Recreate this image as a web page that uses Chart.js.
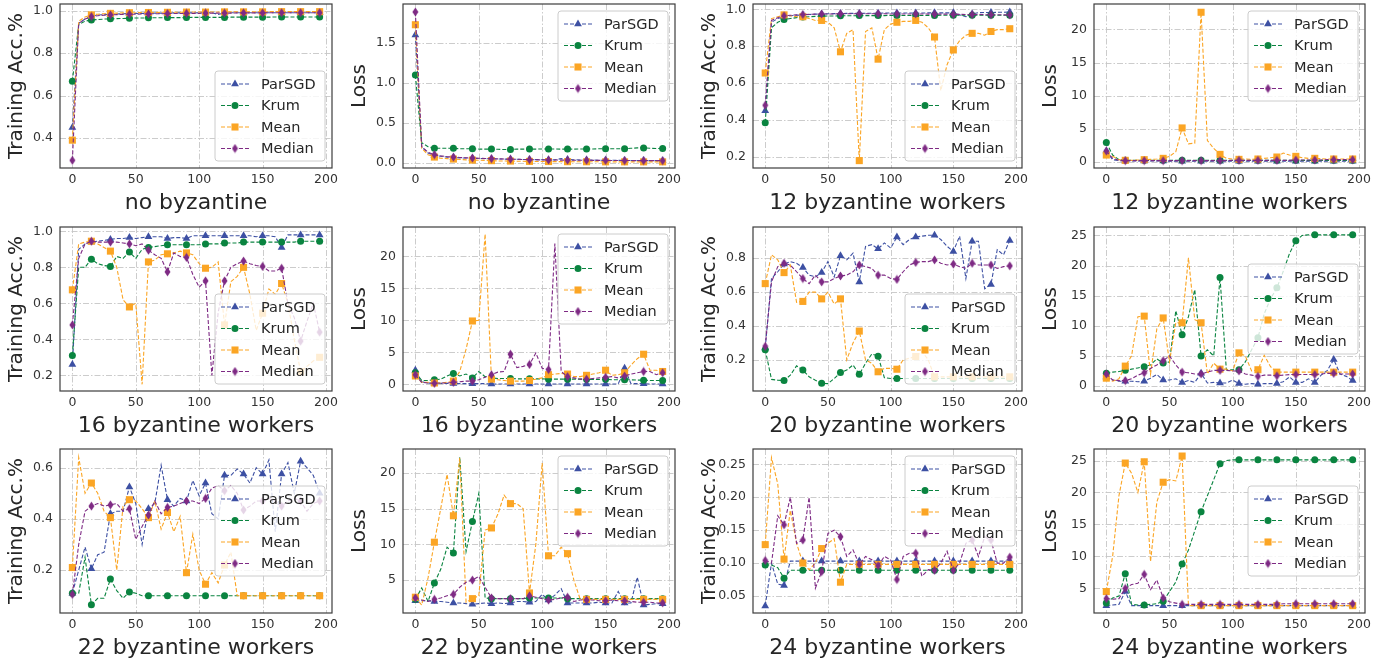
<!DOCTYPE html>
<html>
<head>
<meta charset="utf-8">
<script src="https://cdn.jsdelivr.net/npm/chart.js@4.4.1/dist/chart.umd.min.js"></script>
<style>
html, body { margin: 0; padding: 0; background: #fff; }
#wrap { position: relative; width: 1387px; height: 664px; overflow: hidden; }
#wrap canvas { position: absolute; }
</style>
</head>
<body>
<div id="wrap"></div>
<script>
// iterations (x axis), markers every 3rd point
const epochs = [0,5,10,15,20,25,30,35,40,45,50,55,60,65,70,75,80,85,90,95,
                100,105,110,115,120,125,130,135,140,145,150,155,160,165,170,175,180,185,190,195];
const seriesNames = ['ParSGD', 'Krum', 'Mean', 'Median'];
const xTicks = ['0', '50', '100', '150', '200'];

// ---- no byzantine ----
const accNone_ParSGD = [0.45,0.94,0.96,0.975,0.979,0.981,0.983,0.984,0.985,0.986,
  0.986,0.987,0.987,0.988,0.988,0.988,0.989,0.989,0.989,0.989,
  0.99,0.99,0.99,0.982,0.99,0.99,0.99,0.99,0.99,0.99,
  0.99,0.99,0.99,0.99,0.99,0.99,0.99,0.99,0.99,0.99];
const accNone_Krum = [0.667,0.935,0.95,0.956,0.958,0.96,0.961,0.962,0.963,0.964,
  0.965,0.965,0.966,0.966,0.966,0.967,0.967,0.967,0.967,0.968,
  0.968,0.968,0.968,0.968,0.968,0.969,0.969,0.969,0.969,0.969,
  0.969,0.969,0.97,0.97,0.97,0.97,0.97,0.97,0.97,0.97];
const accNone_Mean = [0.39,0.95,0.97,0.98,0.983,0.985,0.987,0.988,0.989,0.99,
  0.99,0.991,0.991,0.991,0.992,0.992,0.992,0.992,0.993,0.993,
  0.993,0.993,0.993,0.993,0.994,0.994,0.994,0.994,0.994,0.994,
  0.994,0.995,0.995,0.995,0.995,0.995,0.995,0.995,0.995,0.995];
const accNone_Median = [0.295,0.94,0.96,0.972,0.976,0.978,0.98,0.981,0.982,0.983,
  0.983,0.984,0.984,0.985,0.985,0.986,0.986,0.986,0.987,0.987,
  0.987,0.988,0.988,0.988,0.988,0.988,0.989,0.989,0.989,0.989,
  0.989,0.99,0.99,0.99,0.99,0.99,0.99,0.99,0.99,0.99];

const lossNone_ParSGD = [1.6,0.2,0.12,0.09,0.08,0.07,0.065,0.06,0.058,0.055,
  0.052,0.05,0.048,0.046,0.045,0.043,0.042,0.04,0.04,0.038,
  0.037,0.036,0.035,0.05,0.04,0.035,0.034,0.033,0.032,0.031,
  0.03,0.03,0.029,0.028,0.028,0.027,0.026,0.026,0.025,0.025];
const lossNone_Krum = [1.1,0.25,0.2,0.18,0.18,0.18,0.18,0.175,0.175,0.175,
  0.17,0.17,0.17,0.168,0.165,0.165,0.17,0.17,0.17,0.17,
  0.172,0.172,0.172,0.17,0.17,0.17,0.172,0.172,0.172,0.174,
  0.174,0.174,0.174,0.175,0.18,0.185,0.185,0.18,0.178,0.177];
const lossNone_Mean = [1.73,0.18,0.1,0.07,0.055,0.05,0.045,0.04,0.035,0.032,
  0.03,0.028,0.025,0.022,0.02,0.02,0.018,0.017,0.016,0.015,
  0.015,0.014,0.013,0.013,0.012,0.012,0.012,0.011,0.011,0.011,
  0.01,0.01,0.01,0.01,0.01,0.01,0.01,0.01,0.01,0.01];
const lossNone_Median = [1.89,0.2,0.13,0.1,0.085,0.075,0.07,0.065,0.06,0.058,
  0.055,0.052,0.05,0.048,0.045,0.043,0.042,0.04,0.038,0.036,
  0.035,0.034,0.033,0.032,0.031,0.031,0.03,0.03,0.029,0.029,
  0.028,0.028,0.027,0.027,0.026,0.026,0.026,0.025,0.025,0.025];

// ---- 12 byzantine workers ----
const acc12_ParSGD = [0.45,0.93,0.95,0.96,0.965,0.968,0.97,0.972,0.974,0.975,
  0.976,0.977,0.977,0.978,0.978,0.978,0.979,0.979,0.979,0.98,
  0.98,0.98,0.98,0.98,0.98,0.98,0.981,0.981,0.981,0.981,
  0.981,0.97,0.96,0.975,0.982,0.983,0.983,0.984,0.984,0.985];
const acc12_Krum = [0.385,0.9,0.93,0.945,0.95,0.955,0.958,0.96,0.962,0.963,
  0.964,0.964,0.965,0.965,0.965,0.966,0.966,0.966,0.966,0.966,
  0.967,0.967,0.967,0.967,0.967,0.967,0.967,0.967,0.968,0.968,
  0.968,0.968,0.968,0.968,0.968,0.968,0.968,0.968,0.968,0.968];
const acc12_Mean = [0.655,0.95,0.96,0.97,0.965,0.96,0.96,0.95,0.94,0.94,
  0.93,0.9,0.77,0.87,0.89,0.18,0.88,0.9,0.73,0.89,
  0.92,0.93,0.935,0.935,0.94,0.93,0.9,0.85,0.56,0.7,
  0.78,0.83,0.86,0.87,0.87,0.86,0.88,0.89,0.89,0.895];
const acc12_Median = [0.48,0.94,0.955,0.965,0.968,0.97,0.972,0.973,0.974,0.975,
  0.975,0.975,0.976,0.976,0.976,0.976,0.976,0.976,0.976,0.976,
  0.975,0.975,0.975,0.975,0.975,0.975,0.974,0.974,0.974,0.974,
  0.973,0.973,0.972,0.972,0.972,0.971,0.971,0.971,0.97,0.97];

const loss12_ParSGD = [1.6,0.3,0.15,0.1,0.1,0.1,0.09,0.09,0.09,0.09,
  0.08,0.08,0.08,0.08,0.08,0.08,0.08,0.08,0.08,0.08,
  0.08,0.08,0.08,0.08,0.08,0.08,0.08,0.08,0.08,0.08,
  0.08,0.08,0.08,0.08,0.08,0.08,0.08,0.08,0.08,0.08];
const loss12_Krum = [2.9,1.0,0.3,0.2,0.2,0.2,0.2,0.2,0.2,0.2,
  0.2,0.2,0.2,0.2,0.2,0.2,0.2,0.2,0.2,0.2,
  0.2,0.2,0.2,0.2,0.2,0.2,0.2,0.2,0.2,0.2,
  0.2,0.2,0.2,0.2,0.2,0.2,0.2,0.2,0.2,0.2];
const loss12_Mean = [1.0,0.8,0.3,0.2,0.2,0.25,0.3,0.35,0.4,0.5,
  0.8,1.5,5.1,2.7,2.8,22.6,3.2,2.0,1.1,0.5,
  0.4,0.35,0.4,0.35,0.4,0.5,0.6,0.7,1.3,1.0,
  0.8,0.6,0.5,0.5,0.45,0.4,0.4,0.4,0.4,0.4];
const loss12_Median = [1.6,0.5,0.2,0.15,0.15,0.15,0.15,0.15,0.15,0.15,
  0.15,0.15,0.15,0.15,0.15,0.15,0.15,0.15,0.15,0.15,
  0.2,0.2,0.2,0.2,0.2,0.2,0.2,0.2,0.2,0.2,
  0.25,0.25,0.25,0.25,0.25,0.3,0.3,0.3,0.3,0.3];

// ---- 16 byzantine workers ----
const acc16_ParSGD = [0.26,0.9,0.93,0.94,0.945,0.95,0.955,0.96,0.96,0.965,
  0.96,0.965,0.97,0.97,0.97,0.96,0.965,0.965,0.96,0.975,
  0.975,0.975,0.975,0.975,0.975,0.975,0.975,0.975,0.975,0.97,
  0.975,0.975,0.97,0.91,0.98,0.98,0.98,0.98,0.98,0.98];
const acc16_Krum = [0.31,0.8,0.8,0.845,0.82,0.81,0.805,0.86,0.85,0.885,
  0.85,0.9,0.91,0.915,0.92,0.925,0.925,0.925,0.925,0.925,
  0.925,0.93,0.93,0.93,0.935,0.935,0.935,0.94,0.94,0.94,
  0.94,0.94,0.94,0.94,0.94,0.94,0.945,0.945,0.945,0.945];
const acc16_Mean = [0.675,0.93,0.94,0.945,0.93,0.91,0.89,0.8,0.62,0.58,
  0.6,0.15,0.83,0.84,0.87,0.875,0.88,0.89,0.88,0.87,
  0.82,0.795,0.8,0.83,0.48,0.72,0.75,0.8,0.65,0.45,
  0.545,0.68,0.65,0.71,0.6,0.4,0.22,0.25,0.28,0.3];
const acc16_Median = [0.48,0.85,0.93,0.945,0.94,0.94,0.94,0.94,0.935,0.93,
  0.92,0.93,0.895,0.87,0.85,0.775,0.88,0.86,0.855,0.76,
  0.69,0.725,0.2,0.55,0.725,0.8,0.82,0.835,0.82,0.81,
  0.805,0.78,0.78,0.795,0.6,0.52,0.39,0.5,0.6,0.44];

const loss16_ParSGD = [2.2,0.4,0.2,0.15,0.15,0.15,0.12,0.1,0.1,0.1,
  0.1,0.1,0.05,0.05,0.05,0.05,0.05,0.05,0.05,0.05,
  0.05,0.05,0.05,0.05,0.05,0.05,0.05,0.05,0.05,0.05,
  0.05,0.05,0.05,2.5,0.1,0.1,0.1,0.05,0.05,0.05];
const loss16_Krum = [1.8,0.6,0.6,0.7,0.8,1.3,1.7,1.3,1.6,1.0,
  2.0,1.2,1.0,0.9,0.9,0.9,0.85,0.85,0.85,0.85,
  0.85,0.8,0.8,0.8,0.8,0.8,0.8,0.8,0.75,0.75,
  0.8,0.7,0.7,0.7,0.7,0.65,0.65,0.6,0.6,0.6];
const loss16_Mean = [1.3,0.3,0.3,0.2,0.2,0.3,0.5,2.0,5.5,9.9,
  10.0,23.5,0.8,0.7,0.6,0.5,0.5,0.5,0.6,0.8,
  1.0,1.5,1.6,1.7,1.6,1.2,1.2,1.4,1.6,1.8,
  2.2,1.4,1.5,1.8,3.0,4.0,4.7,2.2,2.2,2.0];
const loss16_Median = [1.5,0.3,0.2,0.15,0.2,0.2,0.3,0.4,0.5,0.5,
  0.7,1.1,1.5,1.9,2.0,4.7,2.6,2.8,3.1,4.9,
  2.5,2.3,22.0,2.0,1.2,1.0,0.8,0.8,0.9,1.0,
  1.1,1.2,1.0,1.3,1.6,1.8,2.0,2.0,1.5,1.8];

// ---- 20 byzantine workers ----
const acc20_ParSGD = [0.27,0.68,0.72,0.765,0.78,0.77,0.745,0.7,0.69,0.715,
  0.78,0.69,0.815,0.79,0.83,0.66,0.87,0.88,0.855,0.89,
  0.86,0.925,0.88,0.91,0.925,0.93,0.935,0.935,0.91,0.87,
  0.84,0.93,0.68,0.9,0.9,0.62,0.645,0.85,0.82,0.905];
const acc20_Krum = [0.26,0.085,0.08,0.078,0.11,0.165,0.14,0.1,0.08,0.062,
  0.06,0.09,0.125,0.14,0.17,0.115,0.18,0.235,0.222,0.095,
  0.09,0.09,0.09,0.09,0.09,0.09,0.09,0.09,0.09,0.09,
  0.09,0.09,0.09,0.09,0.09,0.09,0.09,0.09,0.09,0.09];
const acc20_Mean = [0.65,0.82,0.79,0.715,0.76,0.54,0.545,0.6,0.6,0.56,
  0.6,0.53,0.56,0.2,0.3,0.37,0.2,0.18,0.13,0.15,
  0.15,0.145,0.2,0.21,0.22,0.25,0.2,0.1,0.1,0.1,
  0.1,0.1,0.1,0.1,0.1,0.1,0.1,0.1,0.1,0.1];
const acc20_Median = [0.28,0.66,0.75,0.77,0.76,0.72,0.68,0.65,0.7,0.66,
  0.66,0.68,0.695,0.7,0.72,0.76,0.75,0.74,0.7,0.7,
  0.68,0.675,0.72,0.76,0.775,0.78,0.78,0.79,0.77,0.76,
  0.765,0.75,0.74,0.77,0.76,0.76,0.76,0.74,0.75,0.755];

const loss20_ParSGD = [1.5,1.0,0.8,0.8,0.8,0.7,0.8,1.3,1.9,1.0,
  1.0,1.2,0.6,0.9,0.6,2.1,0.5,0.6,0.5,0.5,
  1.0,0.4,0.3,0.4,0.3,0.4,0.4,0.4,0.7,1.5,
  0.6,0.6,1.2,0.6,1.8,2.6,4.4,2.0,1.6,0.9];
const loss20_Krum = [2.1,2.3,2.4,2.6,2.8,3.0,3.2,3.5,4.5,3.8,
  4.0,12.5,8.5,11.5,16.0,5.0,6.0,5.0,18.0,2.7,
  2.7,2.7,4.0,6.0,8.0,12.0,14.5,16.3,19.0,22.0,
  24.1,25.0,25.1,25.1,25.1,25.1,25.1,25.1,25.1,25.1];
const loss20_Mean = [1.3,0.8,1.2,3.3,5.0,11.5,11.6,2.0,9.5,11.3,
  4.0,10.5,10.5,21.3,11.0,10.5,2.0,3.8,2.8,2.8,
  2.5,5.5,5.0,2.5,2.7,5.1,3.2,2.3,2.3,2.3,
  2.3,2.3,2.3,2.3,2.3,2.3,2.3,2.3,2.3,2.3];
const loss20_Median = [2.0,1.0,0.9,0.9,1.2,1.8,2.2,2.9,3.5,4.2,
  5.0,3.5,2.3,2.2,2.0,2.0,2.3,2.6,2.6,2.6,
  2.5,2.5,2.0,1.8,1.6,1.8,1.8,1.7,1.8,1.9,
  1.9,1.9,1.9,1.9,2.0,2.1,2.1,2.0,2.0,2.0];

// ---- 22 byzantine workers ----
const acc22_ParSGD = [0.11,0.2,0.29,0.205,0.26,0.27,0.42,0.43,0.43,0.525,
  0.46,0.3,0.44,0.46,0.61,0.475,0.45,0.48,0.47,0.55,
  0.49,0.54,0.42,0.4,0.57,0.57,0.595,0.575,0.54,0.6,
  0.575,0.63,0.35,0.575,0.62,0.5,0.625,0.6,0.57,0.5];
const acc22_Krum = [0.11,0.11,0.25,0.065,0.09,0.09,0.165,0.12,0.09,0.115,
  0.11,0.1,0.1,0.1,0.1,0.1,0.1,0.1,0.1,0.1,
  0.1,0.1,0.1,0.1,0.1,0.1,0.1,0.1,0.1,0.1,
  0.1,0.1,0.1,0.1,0.1,0.1,0.1,0.1,0.1,0.1];
const acc22_Mean = [0.21,0.64,0.5,0.54,0.5,0.43,0.405,0.2,0.45,0.475,
  0.47,0.44,0.405,0.47,0.36,0.425,0.35,0.41,0.19,0.34,
  0.2,0.145,0.19,0.15,0.22,0.27,0.1,0.1,0.1,0.1,
  0.1,0.1,0.1,0.1,0.1,0.1,0.1,0.1,0.1,0.1];
const acc22_Median = [0.105,0.3,0.43,0.45,0.46,0.45,0.455,0.46,0.43,0.44,
  0.32,0.37,0.415,0.47,0.42,0.445,0.45,0.46,0.47,0.47,
  0.46,0.48,0.52,0.53,0.51,0.53,0.5,0.435,0.45,0.47,
  0.47,0.48,0.47,0.45,0.47,0.48,0.47,0.43,0.46,0.47];

const loss22_ParSGD = [2.1,2.1,2.1,2.0,2.0,1.9,1.8,1.8,1.7,1.6,
  1.7,1.8,1.7,1.8,1.7,1.8,2.0,2.0,1.9,2.0,
  3.0,2.2,2.9,3.8,1.8,1.8,1.8,1.8,1.8,1.9,
  1.8,1.8,3.4,1.8,1.8,5.4,1.5,1.6,1.7,1.7];
const loss22_Krum = [2.3,3.9,2.0,4.6,6.5,9.6,8.8,22.2,9.0,13.2,
  17.1,2.5,2.4,2.4,2.4,2.4,2.4,2.4,2.5,2.5,
  2.5,2.5,2.5,2.5,2.4,2.4,2.4,2.4,2.4,2.4,
  2.4,2.4,2.4,2.4,2.4,2.4,2.4,2.4,2.4,2.4];
const loss22_Mean = [2.6,1.5,5.3,10.3,15.0,19.8,14.0,22.1,1.9,2.4,
  2.8,12.0,12.3,14.2,16.9,15.7,15.7,15.0,3.2,10.0,
  21.4,8.4,8.4,9.6,8.7,5.0,2.3,2.3,2.3,2.3,
  2.3,2.3,2.3,2.3,2.3,2.3,2.3,2.3,2.3,2.3];
const loss22_Median = [2.5,2.2,2.0,2.3,2.5,2.8,3.0,4.0,4.7,5.0,
  5.5,4.0,2.5,2.4,2.4,2.4,2.4,2.4,2.8,2.6,
  2.4,2.2,2.3,2.5,2.6,2.0,2.2,2.2,2.2,2.1,
  2.1,2.2,2.1,2.1,2.0,1.9,1.9,1.9,1.8,1.8];

// ---- 24 byzantine workers ----
const acc24_ParSGD = [0.035,0.1,0.068,0.066,0.103,0.103,0.103,0.103,0.103,0.103,
  0.103,0.103,0.103,0.103,0.103,0.103,0.103,0.103,0.103,0.103,
  0.103,0.103,0.103,0.103,0.103,0.103,0.103,0.103,0.103,0.103,
  0.103,0.103,0.103,0.103,0.103,0.103,0.103,0.103,0.103,0.103];
const acc24_Krum = [0.097,0.097,0.093,0.077,0.089,0.089,0.089,0.089,0.089,0.089,
  0.089,0.089,0.089,0.089,0.089,0.089,0.089,0.089,0.089,0.089,
  0.089,0.089,0.089,0.089,0.089,0.089,0.089,0.089,0.089,0.089,
  0.089,0.089,0.089,0.089,0.089,0.089,0.089,0.089,0.089,0.089];
const acc24_Mean = [0.128,0.26,0.22,0.106,0.18,0.13,0.1,0.09,0.1,0.122,
  0.13,0.137,0.071,0.098,0.098,0.098,0.098,0.098,0.098,0.098,
  0.098,0.098,0.098,0.098,0.098,0.098,0.098,0.098,0.098,0.098,
  0.098,0.098,0.098,0.098,0.098,0.098,0.098,0.098,0.098,0.098];
const acc24_Median = [0.104,0.1,0.172,0.158,0.2,0.13,0.135,0.2,0.062,0.087,
  0.145,0.15,0.14,0.11,0.12,0.098,0.11,0.105,0.096,0.11,
  0.105,0.075,0.11,0.115,0.115,0.08,0.09,0.089,0.1,0.118,
  0.089,0.1,0.13,0.135,0.11,0.14,0.135,0.1,0.1,0.109];

const loss24_ParSGD = [2.3,2.4,2.5,4.5,2.3,2.3,2.3,2.3,2.3,2.3,
  2.3,2.3,2.3,2.3,2.3,2.3,2.3,2.3,2.3,2.3,
  2.3,2.3,2.3,2.3,2.3,2.3,2.3,2.3,2.3,2.3,
  2.3,2.3,2.3,2.3,2.3,2.3,2.3,2.3,2.3,2.3];
const loss24_Krum = [2.7,3.5,3.8,7.3,2.5,2.4,2.4,2.5,2.6,3.0,
  4.5,6.0,8.8,11.0,14.0,17.0,19.5,22.0,24.5,25.0,
  25.1,25.1,25.1,25.1,25.1,25.1,25.1,25.1,25.1,25.1,
  25.1,25.1,25.1,25.1,25.1,25.1,25.1,25.1,25.1,25.1];
const loss24_Mean = [4.5,10.0,19.5,24.6,23.0,20.0,24.8,9.2,18.5,21.6,
  22.0,21.8,25.7,2.3,2.3,2.3,2.3,2.3,2.3,2.3,
  2.3,2.3,2.3,2.3,2.3,2.3,2.3,2.3,2.3,2.3,
  2.3,2.3,2.3,2.3,2.3,2.3,2.3,2.3,2.3,2.3];
const loss24_Median = [3.4,3.3,3.4,5.0,5.6,5.8,7.2,4.8,6.3,3.5,
  2.9,2.7,2.5,2.5,2.5,2.5,2.5,2.5,2.5,2.5,
  2.5,2.5,2.5,2.5,2.5,2.5,2.5,2.5,2.6,2.6,
  2.6,2.6,2.6,2.6,2.6,2.6,2.6,2.6,2.6,2.6];

// y tick labels per panel
const ticksAccNone = ['0.4', '0.6', '0.8', '1.0'];
const ticksLossNone = ['0.0', '0.5', '1.0', '1.5'];
const ticksAcc12 = ['0.2', '0.4', '0.6', '0.8', '1.0'];
const ticksLoss12 = ['0', '5', '10', '15', '20'];
const ticksAcc16 = ['0.2', '0.4', '0.6', '0.8', '1.0'];
const ticksLoss16 = ['0', '5', '10', '15', '20'];
const ticksAcc20 = ['0.2', '0.4', '0.6', '0.8'];
const ticksLoss20 = ['0', '5', '10', '15', '20', '25'];
const ticksAcc22 = ['0.2', '0.4', '0.6'];
const ticksLoss22 = ['5', '10', '15', '20'];
const ticksAcc24 = ['0.05', '0.10', '0.15', '0.20', '0.25'];
const ticksLoss24 = ['5', '10', '15', '20', '25'];

const panels = [
  {ylab: 'Training Acc.%', xlab: 'no byzantine', ymin: 0.259, ymax: 1.031, ticks: ticksAccNone, loc: 'lr',
   series: [accNone_ParSGD, accNone_Krum, accNone_Mean, accNone_Median]},
  {ylab: 'Loss', xlab: 'no byzantine', ymin: -0.067, ymax: 1.99, ticks: ticksLossNone, loc: 'ur',
   series: [lossNone_ParSGD, lossNone_Krum, lossNone_Mean, lossNone_Median]},
  {ylab: 'Training Acc.%', xlab: '12 byzantine workers', ymin: 0.14, ymax: 1.029, ticks: ticksAcc12, loc: 'lr',
   series: [acc12_ParSGD, acc12_Krum, acc12_Mean, acc12_Median]},
  {ylab: 'Loss', xlab: '12 byzantine workers', ymin: -0.96, ymax: 23.85, ticks: ticksLoss12, loc: 'ur',
   series: [loss12_ParSGD, loss12_Krum, loss12_Mean, loss12_Median]},
  {ylab: 'Training Acc.%', xlab: '16 byzantine workers', ymin: 0.113, ymax: 1.024, ticks: ticksAcc16, loc: 'lr',
   series: [acc16_ParSGD, acc16_Krum, acc16_Mean, acc16_Median]},
  {ylab: 'Loss', xlab: '16 byzantine workers', ymin: -1.05, ymax: 24.6, ticks: ticksLoss16, loc: 'ur',
   series: [loss16_ParSGD, loss16_Krum, loss16_Mean, loss16_Median]},
  {ylab: 'Training Acc.%', xlab: '20 byzantine workers', ymin: 0.0165, ymax: 0.984, ticks: ticksAcc20, loc: 'lr',
   series: [acc20_ParSGD, acc20_Krum, acc20_Mean, acc20_Median]},
  {ylab: 'Loss', xlab: '20 byzantine workers', ymin: -0.83, ymax: 26.4, ticks: ticksLoss20, loc: 'cr',
   series: [loss20_ParSGD, loss20_Krum, loss20_Mean, loss20_Median]},
  {ylab: 'Training Acc.%', xlab: '22 byzantine workers', ymin: 0.0325, ymax: 0.673, ticks: ticksAcc22, loc: 'cr',
   series: [acc22_ParSGD, acc22_Krum, acc22_Mean, acc22_Median]},
  {ylab: 'Loss', xlab: '22 byzantine workers', ymin: 0.39, ymax: 23.35, ticks: ticksLoss22, loc: 'ur',
   series: [loss22_ParSGD, loss22_Krum, loss22_Mean, loss22_Median]},
  {ylab: 'Training Acc.%', xlab: '24 byzantine workers', ymin: 0.0242, ymax: 0.2732, ticks: ticksAcc24, loc: 'ur',
   series: [acc24_ParSGD, acc24_Krum, acc24_Mean, acc24_Median]},
  {ylab: 'Loss', xlab: '24 byzantine workers', ymin: 1.15, ymax: 26.8, ticks: ticksLoss24, loc: 'cr',
   series: [loss24_ParSGD, loss24_Krum, loss24_Mean, loss24_Median]}
];

// layout of the plot areas (px)
const colLeft = [60, 403, 753, 1094];
const colWidth = [272, 272, 269, 271];
const rowTop = [4, 227, 449];
const plotH = 164;

const colors = ['#3d50a3', '#0a8440', '#fba524', '#7e2a84'];
const radii = [4.5, 3.5, 5, 1];

// thin diamond like matplotlib 'd'
function thinDiamond(color) {
  const c = document.createElement('canvas');
  c.width = 7; c.height = 10;
  const g = c.getContext('2d');
  g.fillStyle = color;
  g.beginPath();
  g.moveTo(3.5, 0.5); g.lineTo(6.5, 5); g.lineTo(3.5, 9.5); g.lineTo(0.5, 5);
  g.closePath(); g.fill();
  return c;
}
const styles = ['triangle', 'circle', 'rect', thinDiamond(colors[3])];

function drawMarker(ctx, i, x, y) {
  ctx.fillStyle = colors[i];
  ctx.setLineDash([]);
  if (i === 0) {
    const r = radii[0];
    ctx.beginPath();
    ctx.moveTo(x, y - r);
    ctx.lineTo(x + r * 0.866, y + r * 0.5);
    ctx.lineTo(x - r * 0.866, y + r * 0.5);
    ctx.closePath(); ctx.fill();
  } else if (i === 1) {
    ctx.beginPath(); ctx.arc(x, y, radii[1], 0, Math.PI * 2); ctx.fill();
  } else if (i === 2) {
    const s = radii[2] * Math.SQRT1_2;
    ctx.fillRect(x - s, y - s, 2 * s, 2 * s);
  } else {
    ctx.drawImage(styles[3], x - 3.5, y - 5);
  }
}

const gridLines = {
  id: 'gridLines',
  beforeDatasetsDraw(chart) {
    const {ctx, chartArea: a, scales: {x, y}} = chart;
    ctx.save();
    ctx.strokeStyle = '#c6c6c6';
    ctx.lineWidth = 0.9;
    ctx.setLineDash([6, 2, 1.5, 2]);
    x.ticks.forEach(t => {
      const px = Math.round(x.getPixelForValue(t.value)) + 0.5;
      ctx.beginPath(); ctx.moveTo(px, a.top); ctx.lineTo(px, a.bottom); ctx.stroke();
    });
    y.ticks.forEach(t => {
      const py = Math.round(y.getPixelForValue(t.value)) + 0.5;
      ctx.beginPath(); ctx.moveTo(a.left, py); ctx.lineTo(a.right, py); ctx.stroke();
    });
    ctx.restore();
  }
};

const frameLegend = {
  id: 'frameLegend',
  afterDraw(chart, args, opts) {
    const {ctx, chartArea: a} = chart;
    ctx.save();
    ctx.strokeStyle = '#3c3c3c';
    ctx.lineWidth = 1.2;
    ctx.strokeRect(a.left, a.top, a.width, a.height);

    const w = 110, h = 90, pad = 7;
    const x0 = a.right - pad - w;
    let y0;
    if (opts.loc === 'ur') y0 = a.top + pad;
    else if (opts.loc === 'lr') y0 = a.bottom - pad - h;
    else y0 = (a.top + a.bottom - h) / 2;

    ctx.beginPath();
    ctx.roundRect(x0, y0, w, h, 3);
    ctx.fillStyle = 'rgba(255,255,255,0.8)';
    ctx.fill();
    ctx.strokeStyle = '#cccccc';
    ctx.lineWidth = 1;
    ctx.stroke();

    ctx.font = '14.5px "DejaVu Sans"';
    ctx.textBaseline = 'middle';
    seriesNames.forEach((name, i) => {
      const cy = y0 + 13 + i * 21.5;
      ctx.strokeStyle = colors[i];
      ctx.lineWidth = 1.1;
      ctx.setLineDash([4, 2]);
      ctx.beginPath(); ctx.moveTo(x0 + 6, cy); ctx.lineTo(x0 + 34, cy); ctx.stroke();
      drawMarker(ctx, i, x0 + 20, cy);
      ctx.fillStyle = '#262626';
      ctx.fillText(name, x0 + 46, cy + 1);
    });
    ctx.restore();
  }
};

Chart.defaults.font.family = '"DejaVu Sans", sans-serif';

const wrap = document.getElementById('wrap');
panels.forEach((p, k) => {
  const col = k % 4, row = Math.floor(k / 4);
  const cv = document.createElement('canvas');
  const cw = 60 + colWidth[col] + 10, ch = 222;
  cv.width = cw; cv.height = ch;
  cv.style.left = (colLeft[col] - 60) + 'px';
  cv.style.top = (rowTop[row] - 6) + 'px';
  cv.style.width = cw + 'px'; cv.style.height = ch + 'px';
  wrap.appendChild(cv);

  const yVals = p.ticks.map(parseFloat);
  const xVals = xTicks.map(parseFloat);

  new Chart(cv.getContext('2d'), {
    type: 'line',
    data: {
      datasets: seriesNames.map((name, i) => ({
        label: name,
        data: epochs.map((e, j) => ({x: e, y: p.series[i][j]})),
        borderColor: colors[i],
        backgroundColor: colors[i],
        borderWidth: 1.1,
        borderDash: [4, 2],
        tension: 0,
        fill: false,
        order: 3 - i,
        pointStyle: styles[i],
        pointBorderWidth: 0,
        pointRadius: c => (c.dataIndex % 3 === 0 ? radii[i] : 0),
        pointHoverRadius: 0
      }))
    },
    options: {
      responsive: false,
      animation: false,
      events: [],
      layout: {padding: {left: 0, right: 10, top: 6, bottom: 0}},
      plugins: {
        legend: {display: false},
        tooltip: {enabled: false},
        frameLegend: {loc: p.loc}
      },
      scales: {
        x: {
          type: 'linear',
          min: -9.75,
          max: 204.75,
          afterBuildTicks: s => { s.ticks = xVals.map(v => ({value: v})); },
          afterFit: s => { s.height = 52; s.paddingLeft = 0; s.paddingRight = 0; },
          grid: {display: false, drawTicks: false},
          border: {display: false},
          ticks: {
            color: '#333',
            font: {size: 12.5},
            padding: 4,
            maxRotation: 0,
            callback: (v, i) => xTicks[i]
          },
          title: {
            display: true,
            text: p.xlab,
            color: '#262626',
            font: {size: 22},
            padding: {top: 0, bottom: 4}
          }
        },
        y: {
          type: 'linear',
          min: p.ymin,
          max: p.ymax,
          afterBuildTicks: s => { s.ticks = yVals.map(v => ({value: v})); },
          afterFit: s => { s.width = 60; s.paddingTop = 0; s.paddingBottom = 0; },
          grid: {display: false, drawTicks: false},
          border: {display: false},
          ticks: {
            color: '#333',
            font: {size: 12.5},
            padding: 7,
            callback: (v, i) => p.ticks[i]
          },
          title: {
            display: true,
            text: p.ylab,
            color: '#262626',
            font: {size: 20},
            padding: {top: 5, bottom: 0}
          }
        }
      }
    },
    plugins: [gridLines, frameLegend]
  });
});
</script>
</body>
</html>
